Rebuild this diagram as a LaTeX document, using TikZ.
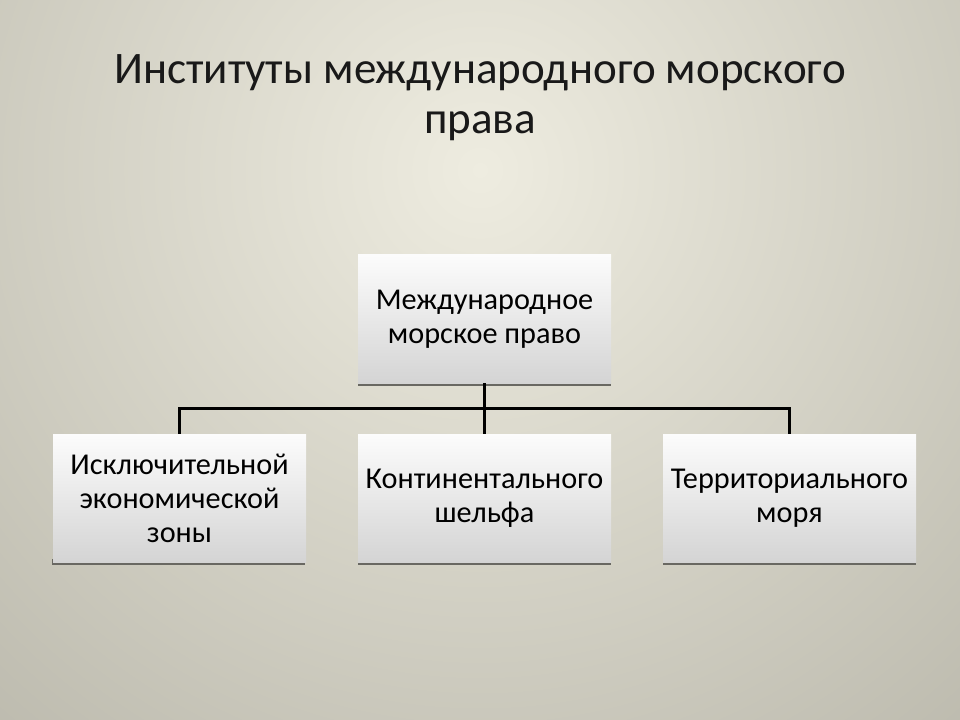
\documentclass[tikz,border=0pt]{standalone}
\usepackage{fontspec}
\setmainfont{Carlito}
\definecolor{bgA}{RGB}{238,236,224}
\definecolor{bgB}{RGB}{139,137,124}
\definecolor{boxtop}{RGB}{252,252,252}
\definecolor{boxbot}{RGB}{212,212,212}
\definecolor{shadowc}{RGB}{105,104,98}
\pgfdeclareradialshading{bgshade}{\pgfpoint{0bp}{0bp}}{color(0bp)=(bgA); color(50bp)=(bgB)}
\tikzset{
  boxnode/.style={rectangle, minimum width=189.75pt, minimum height=96pt, inner sep=0pt,
    top color=boxtop, bottom color=boxbot, align=center, font=\fontsize{22.7}{25.5}\selectfont, text=black},
  conn/.style={draw=black, line width=2.25pt}
}
\begin{document}
\begin{tikzpicture}[x=0.75pt,y=-0.75pt]
\useasboundingbox (0,0) rectangle (960,720);
\begin{scope}
\clip (0,0) rectangle (960,720);
\shade[shading=bgshade] (480,170) circle (750);
\end{scope}
\node[font=\fontsize{33.8}{37.5}\selectfont, text=black!90, align=center] (title) at (480,98)
  {Институты международного морского\\права};
% shadows
\foreach \x/\y in {358/255, 52/434, 358/434, 663/434}{
  \fill[shadowc] (\x,\y+125) rectangle (\x+253,\y+131);
}
\node[boxnode] (top) at (484.5,319) {Международное\\морское право};
\node[boxnode] (b1) at (179.5,498) {Исключительной\\экономической\\зоны};
\node[boxnode] (b2) at (484.5,498) {Континентального\\шельфа};
\node[boxnode] (b3) at (789.5,498) {Территориального\\моря};
\coordinate (j) at (484.5,408);
\draw[conn] (top.south) -- (b2.north);
\draw[conn] (b1.north) |- (j) -| (b3.north);
\end{tikzpicture}
\end{document}
